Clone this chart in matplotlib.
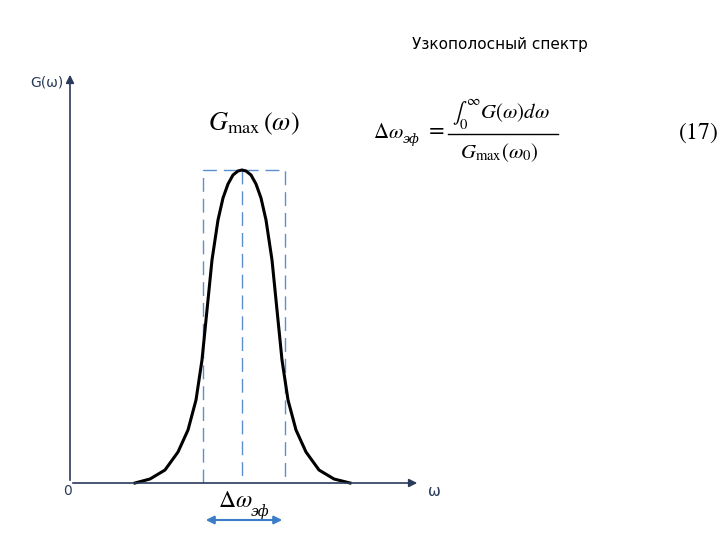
import matplotlib
matplotlib.use("Agg")
import matplotlib.pyplot as plt

plt.rcParams['mathtext.fontset'] = 'stix'

# bell curve (pixel coords)
curve_x = [135, 150, 165, 178, 188, 196, 202, 207, 212, 218, 223, 228, 233, 238, 242,
           246, 251, 256, 261, 266, 272, 277, 282, 288, 296, 306, 319, 334, 350]
curve_y = [483, 479, 470, 452, 430, 400, 360, 310, 260, 220, 198, 184, 175, 171, 170,
           171, 175, 184, 198, 220, 260, 310, 360, 400, 430, 452, 470, 479, 483]
band_left, band_right, peak_x, peak_y = 203, 285, 242, 170
axis_x0, axis_y0, axis_xend, axis_ytop = 70, 483, 420, 72

fig = plt.figure(figsize=(7.2, 5.4), dpi=100)
ax = fig.add_axes([0, 0, 1, 1])
ax.set_xlim(0, 720)
ax.set_ylim(540, 0)
ax.axis('off')

# axes with arrows
ax.annotate('', xy=(axis_xend, axis_y0), xytext=(axis_x0, axis_y0),
            arrowprops=dict(arrowstyle='-|>', color='#2a3a5a', lw=1.2, mutation_scale=12))
ax.annotate('', xy=(axis_x0, axis_ytop), xytext=(axis_x0, axis_y0),
            arrowprops=dict(arrowstyle='-|>', color='#2a3a5a', lw=1.2, mutation_scale=12))

# dashed rectangle
blue = '#5b8fd0'
ax.plot([band_left, band_left, band_right, band_right],
        [axis_y0, peak_y, peak_y, axis_y0], ls=(0, (10, 5)), color=blue, lw=1)
ax.plot([peak_x, peak_x], [peak_y, axis_y0], ls=(0, (10, 5)), color=blue, lw=1)

ax.plot(curve_x, curve_y, color='black', lw=2.2)

# double arrow
ax.annotate('', xy=(band_left, 520), xytext=(band_right, 520),
            arrowprops=dict(arrowstyle='<|-|>', color='#3a7cc8', lw=1.5, mutation_scale=12))

ax.text(30, 82, 'G(ω)', fontsize=10, color='#2a3a5a', va='center')
ax.text(63, 491, '0', fontsize=10, color='#2a3a5a', va='center')
ax.text(428, 491, 'ω', fontsize=11, color='#2a3a5a', va='center')
ax.text(500, 45, 'Узкополосный спектр', fontsize=11, ha='center', va='center')

ax.text(208, 124, r'$G_{\max}\,(\omega)$', fontsize=19, va='center')
ax.text(218, 500, r'$\Delta\omega$', fontsize=17, va='center')
ax.text(251, 512, 'эф', fontsize=10, style='italic', family='DejaVu Serif', va='center')

# formula
ax.text(373, 132, r'$\Delta\omega$', fontsize=15, va='center')
ax.text(403, 139, 'эф', fontsize=9, style='italic', family='DejaVu Serif', va='center')
ax.text(428, 132, '=', fontsize=15, va='center')
ax.plot([448, 558], [134, 134], color='black', lw=1)
ax.text(452, 115, r'$\int_0^{\infty}G(\omega)d\omega$', fontsize=15, va='center')
ax.text(460, 153, r'$G_{\max}(\omega_0)$', fontsize=15, va='center')
ax.text(698, 133, r'$(17)$', fontsize=17, ha='center', va='center')

fig.savefig('out.png', dpi=100)
